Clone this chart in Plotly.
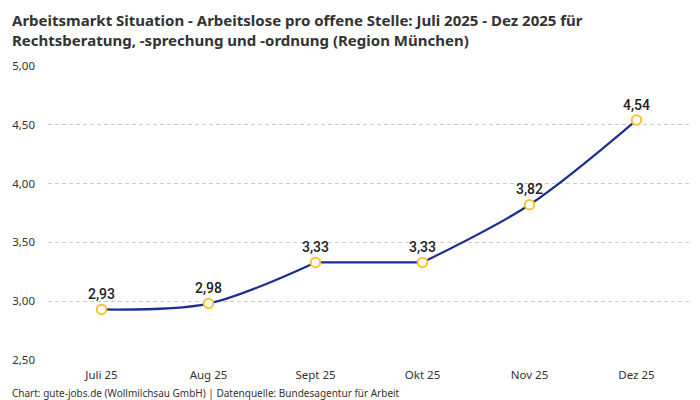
import plotly.graph_objects as go

months = ["Juli 25", "Aug 25", "Sept 25", "Okt 25", "Nov 25", "Dez 25"]
values = [2.93, 2.98, 3.33, 3.33, 3.82, 4.54]
y_ticks = [2.5, 3.0, 3.5, 4.0, 4.5, 5.0]

title = ("<b>Arbeitsmarkt Situation - Arbeitslose pro offene Stelle: Juli 2025 - Dez 2025 für<br>"
         "Rechtsberatung, -sprechung und -ordnung (Region München)</b>")
footer = "Chart: gute-jobs.de (Wollmilchsau GmbH) | Datenquelle: Bundesagentur für Arbeit"

FONT = "Noto Sans, Roboto, sans-serif"
LINE = "#1c2f8f"

fig = go.Figure()
# line drawn in pieces so the flat stretch (equal values) stays flat
pieces = [(0, 3, "spline"), (2, 4, "linear"), (3, 6, "spline")]
for a, b, shape in pieces:
    fig.add_trace(go.Scatter(
        x=months[a:b], y=values[a:b], mode="lines",
        line=dict(color=LINE, width=2.2, shape=shape, smoothing=0.9),
        hoverinfo="skip",
    ))
fig.add_trace(go.Scatter(
    x=months, y=values,
    mode="markers+text",
    marker=dict(size=9.5, color="white", line=dict(color="#f7c52b", width=2)),
    texttemplate="%{y:.2f}",
    textposition="top center",
    textfont=dict(size=14, color="#222", family="Roboto", weight=500),
    hoverinfo="skip",
    cliponaxis=False,
))

# page body has an 8px margin: figure sized/offset to compensate
fig.update_layout(
    width=692, height=392,
    margin=dict(l=40, r=10, t=58, b=40),
    paper_bgcolor="white", plot_bgcolor="white",
    separators=",.",
    showlegend=False,
    font=dict(family=FONT, size=11, color="#333"),
    xaxis=dict(type="category", range=[-0.5, 5.5], showgrid=False, zeroline=False,
               showline=False, ticks="", ticklabelstandoff=6, automargin=False,
               tickfont=dict(size=11.5, color="#333")),
    yaxis=dict(range=[2.5, 5.0], tickvals=y_ticks, tickformat=".2f",
               showgrid=True, gridcolor="#cccccc", griddash="4px,3px", gridwidth=1,
               zeroline=False, showline=False, ticks="", ticklabelstandoff=12,
               automargin=False, tickfont=dict(size=11.5, color="#333")),
    annotations=[
        dict(text=title, x=-0.059, xref="paper", xanchor="left", align="left",
             y=1.197, yref="paper", yanchor="top", showarrow=False,
             font=dict(size=15, color="#333", family=FONT)),
        dict(text=footer, x=-0.059, xref="paper", xanchor="left",
             y=-0.112, yref="paper", yanchor="middle", showarrow=False,
             font=dict(size=10, color="#333", family=FONT)),
    ],
)

fig.write_html("out.html")
